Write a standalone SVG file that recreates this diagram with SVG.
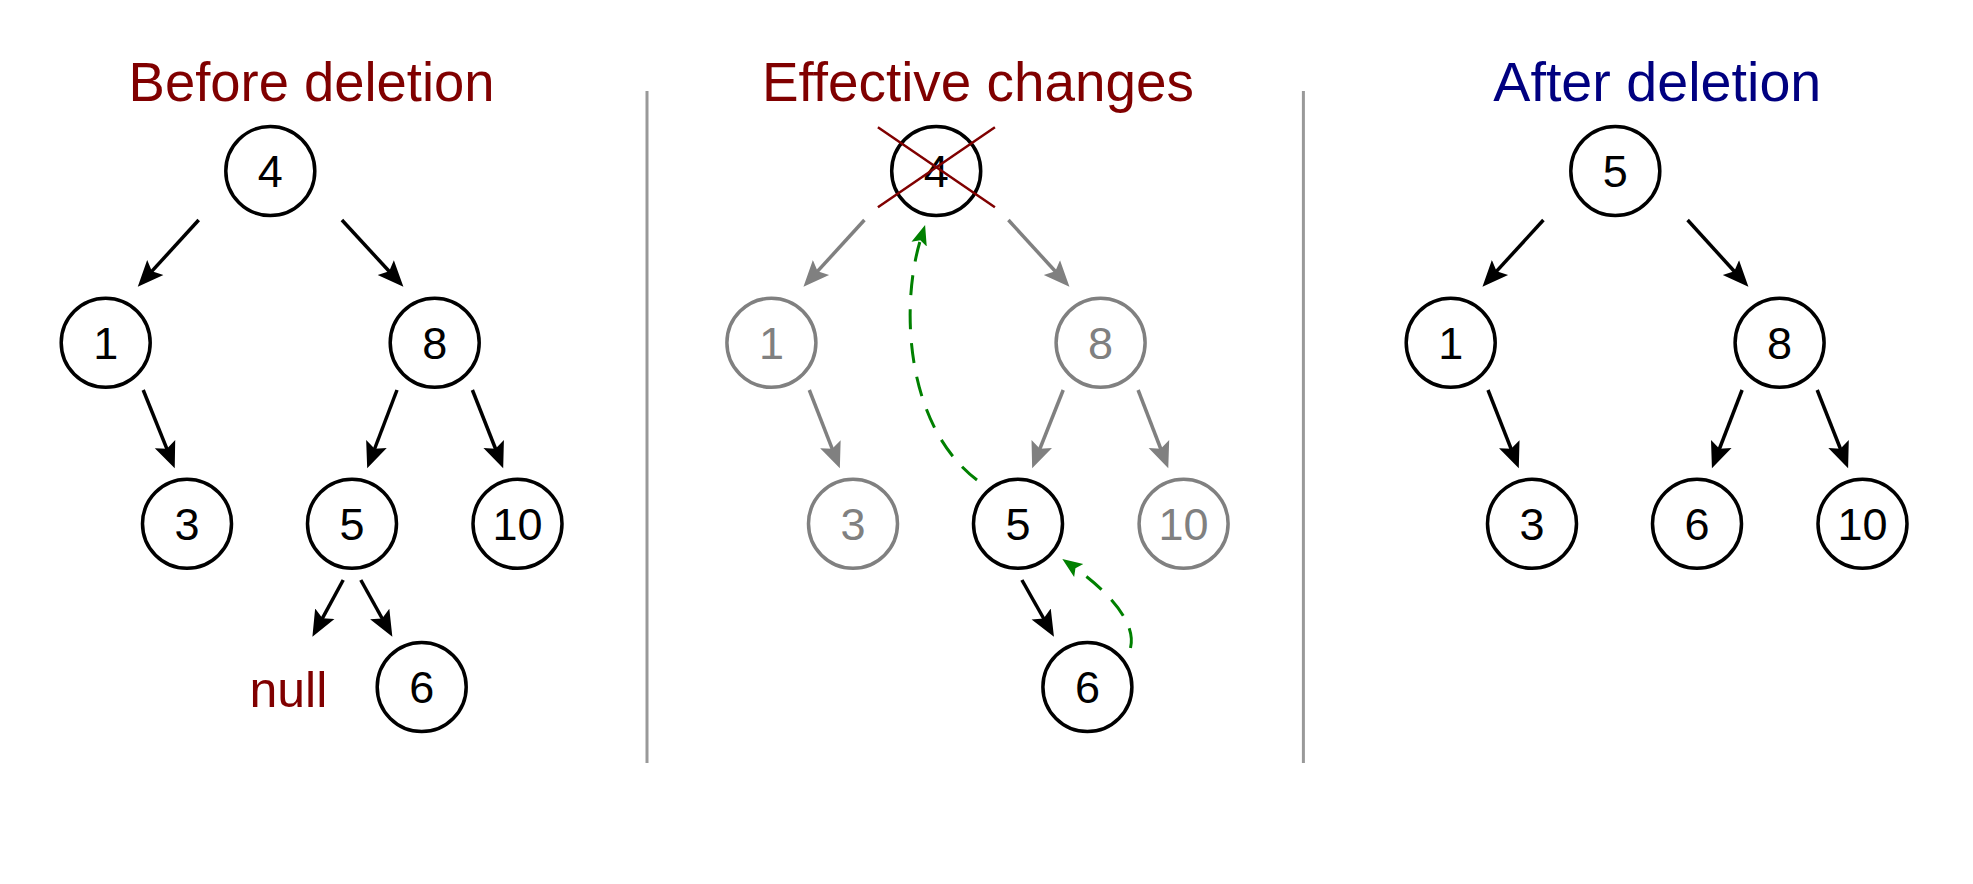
<svg xmlns="http://www.w3.org/2000/svg" width="1973" height="884" viewBox="0 0 1973 884">
<style>
.title{font-family:"Liberation Sans",Arial,sans-serif;font-size:55px;text-anchor:middle}
.n circle{fill:#fff;stroke:#000;stroke-width:3.5}
.n text{font-family:"Liberation Sans",Arial,sans-serif;font-size:45px;text-anchor:middle;fill:#000}
.g circle{stroke:#808080}
.g text{fill:#808080}
.e{stroke:#000;stroke-width:3.5;fill:none;marker-end:url(#ab)}
.eg{stroke:#808080;stroke-width:3.5;fill:none;marker-end:url(#ag)}
.gr{stroke:#008000;stroke-width:3;fill:none;stroke-dasharray:20 14;marker-end:url(#agr)}
.div{stroke:#999;stroke-width:3}
</style>
<defs>
<marker id="ab" markerUnits="userSpaceOnUse" markerWidth="30" markerHeight="26" viewBox="0 -13 30 26" refX="8" refY="0" orient="auto"><path d="M0,-11 L26,0 L0,11 L5,0 Z" fill="#000"/></marker>
<marker id="ag" markerUnits="userSpaceOnUse" markerWidth="30" markerHeight="26" viewBox="0 -13 30 26" refX="8" refY="0" orient="auto"><path d="M0,-11 L26,0 L0,11 L5,0 Z" fill="#808080"/></marker>
<marker id="agr" markerUnits="userSpaceOnUse" markerWidth="24" markerHeight="20" viewBox="0 -10 24 20" refX="6" refY="0" orient="auto"><path d="M0,-8 L20,0 L0,8 L4,0 Z" fill="#008000"/></marker>
</defs>
<rect width="1973" height="884" fill="#fff"/>
<g id="dividers">
<line class="div" x1="647" y1="91" x2="647" y2="763"/>
<line class="div" x1="1303.4" y1="91" x2="1303.4" y2="763"/>
</g>
<g id="titles">
<text class="title" x="311.6" y="101" fill="#800000" textLength="366" lengthAdjust="spacingAndGlyphs">Before deletion</text>
<text class="title" x="977.9" y="101" fill="#800000" textLength="432" lengthAdjust="spacingAndGlyphs">Effective changes</text>
<text class="title" x="1657.3" y="101" fill="#000080" textLength="328" lengthAdjust="spacingAndGlyphs">After deletion</text>
</g>
<g id="connectors">
<line class="e" x1="198.7" y1="220" x2="149.9" y2="273.4"/>
<line class="e" x1="341.9" y1="220" x2="391.2" y2="273.5"/>
<line class="e" x1="143.2" y1="390" x2="168" y2="451.6"/>
<line class="e" x1="397" y1="390" x2="373.6" y2="451.5"/>
<line class="e" x1="472.4" y1="390" x2="496.6" y2="451.5"/>
<line class="e" x1="343.2" y1="580" x2="321" y2="620.9"/>
<line class="e" x1="360.8" y1="580" x2="383.6" y2="621"/>
<line class="eg" x1="864.4" y1="220" x2="815.6" y2="273.4"/>
<line class="eg" x1="1008.4" y1="220" x2="1057.3" y2="273.5"/>
<line class="eg" x1="809.3" y1="390" x2="833.3" y2="451.6"/>
<line class="eg" x1="1063.2" y1="390" x2="1038.8" y2="451.5"/>
<line class="eg" x1="1138.1" y1="390" x2="1161.8" y2="451.5"/>
<line class="e" x1="1021.9" y1="580" x2="1045.1" y2="621"/>
<path class="gr" d="M977,480 C905,425 900,305 920.9,238.4"/>
<path class="gr" d="M1130.5,648 C1137,622 1106.5,590 1073.8,567.1"/>
<line class="e" x1="1543.4" y1="220" x2="1494.6" y2="273.4"/>
<line class="e" x1="1687.6" y1="220" x2="1736.3" y2="273.5"/>
<line class="e" x1="1488" y1="390" x2="1512.2" y2="451.6"/>
<line class="e" x1="1742.1" y1="390" x2="1718.4" y2="451.5"/>
<line class="e" x1="1817.2" y1="390" x2="1841.5" y2="451.5"/>
</g>
<g id="p1-n4" class="n"><circle cx="270.3" cy="171" r="44.5"/><text x="270.3" y="187">4</text></g>
<g id="p1-n1" class="n"><circle cx="105.7" cy="342.8" r="44.5"/><text x="105.7" y="358.8">1</text></g>
<g id="p1-n8" class="n"><circle cx="434.7" cy="342.8" r="44.5"/><text x="434.7" y="358.8">8</text></g>
<g id="p1-n3" class="n"><circle cx="187" cy="523.8" r="44.5"/><text x="187" y="539.8">3</text></g>
<g id="p1-n5" class="n"><circle cx="352" cy="523.8" r="44.5"/><text x="352" y="539.8">5</text></g>
<g id="p1-n10" class="n"><circle cx="517.5" cy="523.8" r="44.5"/><text x="517.5" y="539.8">10</text></g>
<g id="p1-n6" class="n"><circle cx="421.7" cy="687" r="44.5"/><text x="421.7" y="703">6</text></g>
<g id="p1-null"><text x="288.4" y="706.7" font-family="Liberation Sans, Arial, sans-serif" font-size="50" fill="#800000" text-anchor="middle">null</text></g>
<g id="p2-n4" class="n"><circle cx="936.2" cy="171" r="44.5"/><text x="936.2" y="187">4</text></g>
<g id="p2-n1" class="n g"><circle cx="771.4" cy="342.8" r="44.5"/><text x="771.4" y="358.8">1</text></g>
<g id="p2-n8" class="n g"><circle cx="1100.6" cy="342.8" r="44.5"/><text x="1100.6" y="358.8">8</text></g>
<g id="p2-n3" class="n g"><circle cx="853" cy="523.8" r="44.5"/><text x="853" y="539.8">3</text></g>
<g id="p2-n5" class="n"><circle cx="1018" cy="523.8" r="44.5"/><text x="1018" y="539.8">5</text></g>
<g id="p2-n10" class="n g"><circle cx="1183.6" cy="523.8" r="44.5"/><text x="1183.6" y="539.8">10</text></g>
<g id="p2-n6" class="n"><circle cx="1087.4" cy="687" r="44.5"/><text x="1087.4" y="703">6</text></g>
<g id="p2-cross" stroke="#800000" stroke-width="2.5">
<line x1="877.9" y1="127.3" x2="994.9" y2="207.3"/>
<line x1="877.9" y1="207.3" x2="994.9" y2="127.3"/>
</g>
<g id="p3-n5" class="n"><circle cx="1615.3" cy="171" r="44.5"/><text x="1615.3" y="187">5</text></g>
<g id="p3-n1" class="n"><circle cx="1450.7" cy="342.8" r="44.5"/><text x="1450.7" y="358.8">1</text></g>
<g id="p3-n8" class="n"><circle cx="1779.6" cy="342.8" r="44.5"/><text x="1779.6" y="358.8">8</text></g>
<g id="p3-n3" class="n"><circle cx="1532" cy="523.8" r="44.5"/><text x="1532" y="539.8">3</text></g>
<g id="p3-n6" class="n"><circle cx="1697" cy="523.8" r="44.5"/><text x="1697" y="539.8">6</text></g>
<g id="p3-n10" class="n"><circle cx="1862.5" cy="523.8" r="44.5"/><text x="1862.5" y="539.8">10</text></g>
</svg>
